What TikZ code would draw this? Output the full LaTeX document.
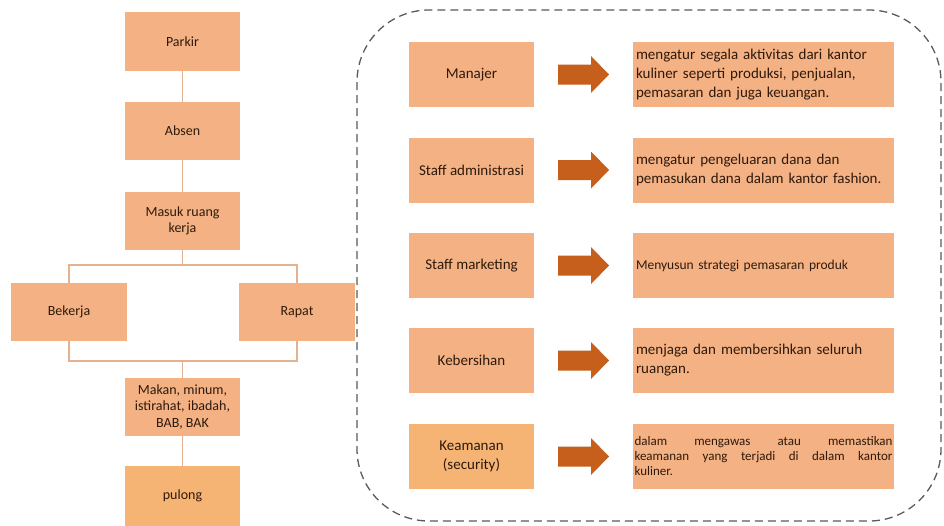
\documentclass[tikz,border=0pt]{standalone}
\usepackage{fontspec}
\setmainfont{Carlito}
\usetikzlibrary{calc}
\definecolor{boxfill}{HTML}{F4B183}
\definecolor{boxfillb}{HTML}{F5B374}
\definecolor{txt}{HTML}{2E1A0C}
\definecolor{arrfill}{HTML}{C65E1C}
\definecolor{conn}{HTML}{E5B18E}
\definecolor{dashc}{HTML}{5A5A5A}
\begin{document}
\begin{tikzpicture}[x=1pt,y=-1pt,
 flowbox/.style={fill=boxfill, text=txt, inner sep=0pt, minimum width=115pt, minimum height=58pt, align=center, font=\fontsize{14}{16.5}\selectfont},
 rolebox/.style={fill=boxfill, text=txt, inner sep=0pt, minimum width=125pt, minimum height=65pt, align=center, font=\fontsize{15}{18.5}\selectfont},
 descbox/.style={fill=boxfill, text=txt, inner xsep=3pt, inner ysep=0pt, text width=255pt, minimum height=65pt, align=left, font=\fontsize{15}{19}\selectfont},
 conline/.style={draw=conn, line width=1.2pt},
 blockarr/.pic={\fill[arrfill] (-25.5,-10) -- (7.5,-10) -- (7.5,-18.5) -- (25.5,0) -- (7.5,18.5) -- (7.5,10) -- (-25.5,10) -- cycle;}]
\useasboundingbox (0,0) rectangle (944,525);
\fill[white] (0,0) rectangle (944,525);
% dashed frame
\draw[dashc, line width=1.3pt, dash pattern=on 8pt off 5pt, rounded corners=72pt] (357,10) rectangle (941,521);
% left flow
\node[flowbox, minimum height=59pt] (parkir) at (182.5,41.5) {Parkir};
\node[flowbox] (absen) at (182.5,131) {Absen};
\node[flowbox] (masuk) at (182.5,221) {Masuk ruang\\kerja};
\node[flowbox, minimum width=116pt] (bekerja) at (69,312) {Bekerja};
\node[flowbox, minimum width=116pt] (rapat) at (297,312) {Rapat};
\node[flowbox] (makan) at (182.5,407) {Makan, minum,\\istirahat, ibadah,\\BAB, BAK};
\node[flowbox, fill=boxfillb, minimum height=60pt] (pulong) at (182.5,496) {pulong};
\coordinate (split) at (182.5,265);
\coordinate (join) at (182.5,361);
\draw[conline] (parkir) -- (absen);
\draw[conline] (absen) -- (masuk);
\draw[conline] (masuk) -- (split);
\draw[conline] (bekerja.north) |- (split) -| (rapat.north);
\draw[conline] (bekerja.south) |- (join) -| (rapat.south);
\draw[conline] (join) -- (makan);
\draw[conline] (makan) -- (pulong);
% right roles
\node[rolebox] (r1) at (471.5,74.5) {Manajer};
\node[descbox] (d1) at (763.5,74.5) {mengatur segala aktivitas dari kantor\\kuliner seperti produksi, penjualan,\\pemasaran dan juga keuangan.};
\node[rolebox] (r2) at (471.5,170) {Staff administrasi};
\node[descbox] (d2) at (763.5,170) {mengatur pengeluaran dana dan\\pemasukan dana dalam kantor fashion.};
\node[rolebox] (r3) at (471.5,265.5) {Staff marketing};
\node[descbox, font=\fontsize{13.5}{16}\selectfont] (d3) at (763.5,265.5) {Menyusun strategi pemasaran produk};
\node[rolebox] (r4) at (471.5,360.5) {Kebersihan};
\node[descbox] (d4) at (763.5,360.5) {menjaga dan membersihkan seluruh\\ruangan.};
\node[rolebox, fill=boxfillb] (r5) at (471.5,456.5) {Keamanan\\(security)};
\node[descbox, align=justify, inner xsep=1.5pt, text width=258pt, font=\fontsize{13}{15}\selectfont] (d5) at (763.5,456.5) {dalam mengawas atau memastikan\linebreak keamanan yang terjadi di dalam kantor\linebreak kuliner.};
% block arrows
\pic at ($(r1.east)!0.5!(d1.west)$) {blockarr};
\pic at ($(r2.east)!0.5!(d2.west)$) {blockarr};
\pic at ($(r3.east)!0.5!(d3.west)$) {blockarr};
\pic at ($(r4.east)!0.5!(d4.west)$) {blockarr};
\pic at ($(r5.east)!0.5!(d5.west)$) {blockarr};
\end{tikzpicture}
\end{document}
